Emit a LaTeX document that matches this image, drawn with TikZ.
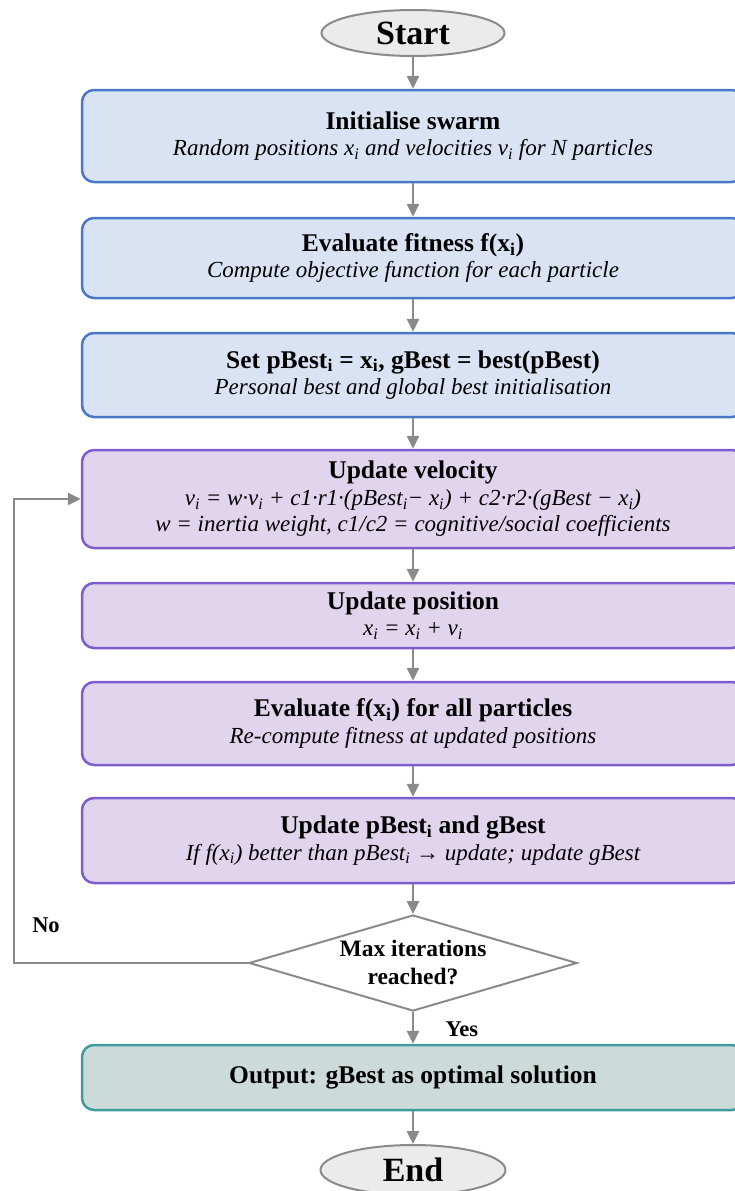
\documentclass[tikz,border=0pt]{standalone}
\usepackage{fontspec}
\setmainfont{Liberation Serif}
\usetikzlibrary{arrows.meta,shapes.geometric}

\definecolor{bluefill}{HTML}{DAE3F3}
\definecolor{blueline}{HTML}{4A78C8}
\definecolor{purplefill}{HTML}{E1D5EE}
\definecolor{purpleline}{HTML}{7C5CCF}
\definecolor{tealfill}{HTML}{CCDBDA}
\definecolor{tealline}{HTML}{3F9C9A}
\definecolor{linkgray}{HTML}{8A8A8A}
\definecolor{termfill}{HTML}{EBEBEB}

\tikzset{
  terminal/.style={ellipse, draw=linkgray, line width=2pt, fill=termfill,
    inner sep=0pt, font=\fontsize{34}{36}\selectfont\bfseries},
  box/.style={rectangle, rounded corners=12pt, line width=2.5pt,
    minimum width=662pt, align=center, inner sep=0pt,
    font=\fontsize{25.5}{26.5}\selectfont},
  bluebox/.style={box, draw=blueline, fill=bluefill},
  purplebox/.style={box, draw=purpleline, fill=purplefill},
  tealbox/.style={box, draw=tealline, fill=tealfill},
  decision/.style={diamond, draw=linkgray, line width=2pt, fill=white,
    minimum width=328pt, minimum height=96pt, inner sep=0pt, aspect=3.4,
    align=center, font=\fontsize{23.5}{28}\selectfont\bfseries},
  link/.style={draw=linkgray, line width=2.6pt,
    -{Triangle[length=13pt,width=12pt]}},
  edgelabel/.style={font=\fontsize{22.5}{24}\selectfont\bfseries},
}
\newcommand{\ttl}[1]{\textbf{#1}}
\newcommand{\subl}[1]{{\fontsize{23}{26.5}\selectfont\itshape #1}}
\newcommand{\si}{\textsubscript{i}}

\begin{document}
\begin{tikzpicture}[x=1pt,y=-1pt]
\useasboundingbox (0,0) rectangle (734,1191);

\node[terminal, minimum width=183pt, minimum height=46pt] (start) at (413,33) {Start};

\node[bluebox, minimum height=92pt] (init) at (413,136)
  {\ttl{Initialise swarm}\\
   \subl{Random positions x\si{} and velocities v\si{} for N particles}};

\node[bluebox, minimum height=80pt] (fit) at (413,258)
  {\ttl{Evaluate fitness f(x\si)}\\
   \subl{Compute objective function for each particle}};

\node[bluebox, minimum height=84pt] (setb) at (413,375)
  {\ttl{Set pBest\si{} = x\si, gBest = best(pBest)}\\
   \subl{Personal best and global best initialisation}};

\node[purplebox, minimum height=98pt] (vel) at (413,499)
  {\ttl{Update velocity}\\
   \subl{v\si{} = w·v\si{} + c1·r1·(pBest\si{}− x\si) + c2·r2·(gBest − x\si)}\\
   \subl{w = inertia weight, c1/c2 = cognitive/social coefficients}};

\node[purplebox, minimum height=65pt] (pos) at (413,615.5)
  {\ttl{Update position}\\
   \subl{x\si{} = x\si{} + v\si}};

\node[purplebox, minimum height=83pt] (eval) at (413,723.5)
  {\ttl{Evaluate f(x\si) for all particles}\\
   \subl{Re-compute fitness at updated positions}};

\node[purplebox, minimum height=85pt] (upd) at (413,840.5)
  {\ttl{Update pBest\si{} and gBest}\\
   \subl{If f(x\si) better than pBest\si{} → update; update gBest}};

\node[decision] (dec) at (413,963) {Max iterations\\reached?};

\node[tealbox, minimum height=65pt] (out) at (413,1077.5)
  {\ttl{Output: gBest as optimal solution}};

\node[terminal, minimum width=185pt, minimum height=50pt] (end) at (413,1170) {End};

% main flow
\draw[link] (start) -- (init);
\draw[link] (init) -- (fit);
\draw[link] (fit) -- (setb);
\draw[link] (setb) -- (vel);
\draw[link] (vel) -- (pos);
\draw[link] (pos) -- (eval);
\draw[link] (eval) -- (upd);
\draw[link] (upd) -- (dec);
\draw[link] (dec) -- node[edgelabel, anchor=west, xshift=28pt, pos=0.55] (yes) {Yes} (out);
\draw[link] (out) -- (end);

% loop back while iterations remain
\coordinate (turn) at (14,963);
\draw[link] (dec.west) -- (turn) |- (vel.west);
\node[edgelabel] (no) at (46,925) {No};
\end{tikzpicture}
\end{document}
